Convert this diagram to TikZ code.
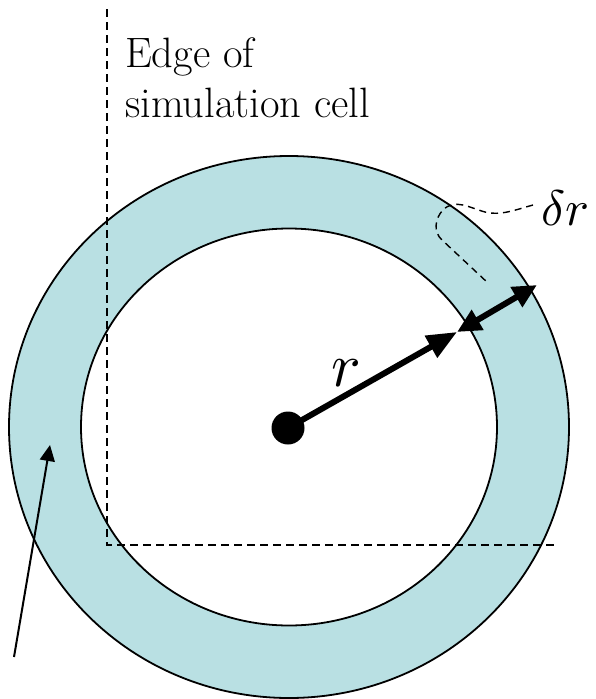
\documentclass[tikz,border=0pt]{standalone}
\usepackage{fontspec}
\usetikzlibrary{arrows.meta}
\definecolor{ringblue}{RGB}{185,224,227}
\tikzset{
  outline/.style={line width=1.8pt, draw=black},
  celledge/.style={line width=1.4pt, dash pattern=on 8pt off 5pt},
  thickarrow/.style={line width=6pt, -{Triangle[length=30pt,width=24pt]}},
  dblarrow/.style={line width=6pt, {Triangle[length=24pt,width=22pt]}-{Triangle[length=24pt,width=22pt]}},
  thinarrow/.style={line width=2pt, -{Triangle[length=16pt,width=15pt]}},
  dotnode/.style={circle, fill=black, inner sep=0pt, minimum size=33pt},
  lbl/.style={inner sep=0pt, anchor=base west},
  celltext/.style={lbl, font=\fontsize{42.5}{50}\selectfont}
}
\begin{document}
\begin{tikzpicture}[x=1pt,y=-1pt]
\useasboundingbox (0,0) rectangle (596,699);
\fill[white] (0,0) rectangle (596,699);
\coordinate (c) at (289,427);
% ring
\fill[ringblue, even odd rule] (c) ellipse [x radius=280pt, y radius=271pt]
  (c) ellipse [x radius=208pt, y radius=198.5pt];
\draw[outline] (c) ellipse [x radius=280pt, y radius=271pt];
\draw[outline] (c) ellipse [x radius=208pt, y radius=198.5pt];
% simulation cell edge
\coordinate (e0) at (107,9);
\coordinate (e1) at (107,545);
\coordinate (e2) at (557,545);
\draw[celledge] (e0) -- (e1) -- (e2);
% text
\node[celltext] (t1) at (125,67) {Edge of};
\node[celltext] (t2) at (125,117) {simulation cell};
% delta r label
\node[lbl] (dr) at (541,225) {\scalebox{5}{$\delta r$}};
\coordinate (d0) at (533,205);
\coordinate (d1) at (488,283);
\draw[line width=1.4pt, dash pattern=on 7pt off 5pt] (d0) .. controls (515,210) and (500,216) .. (485,212)
  .. controls (470,208) and (455,198) .. (443,210)
  .. controls (435,218) and (433,232) .. (442,240) -- (d1);
% arrows
\node[dotnode] (dot) at (288,428) {};
\coordinate (rtip) at (457,332);
\coordinate (drtip) at (537,285);
\draw[thickarrow] (dot.center) -- (rtip);
\draw[dblarrow] (rtip) -- (drtip);
\node[lbl] (rl) at (331,386) {\scalebox{6.2}{$r$}};
\coordinate (a0) at (14,657);
\coordinate (a1) at (50,445);
\draw[thinarrow] (a0) -- (a1);
\end{tikzpicture}
\end{document}
